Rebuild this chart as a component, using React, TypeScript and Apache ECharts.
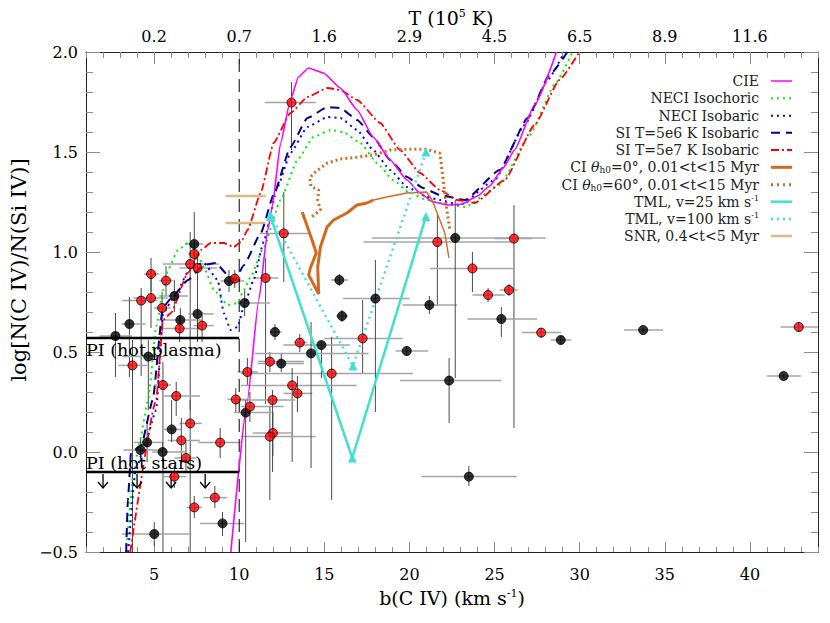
import React, { useEffect, useRef } from 'react';
import * as echarts from 'echarts';

// ---------- axis tick labels ----------
const bTicks = [5, 10, 15, 20, 25, 30, 35, 40];
const tTickLabels = ['0.2', '0.7', '1.6', '2.9', '4.5', '6.5', '8.9', '11.6'];

// ---------- model curves [b, log ratio] ----------
const cie = [[9.51, -0.5], [10.47, 0.25], [11.15, 0.76], [11.68, 1.11], [11.94, 1.227], [12.43, 1.545], [13.01, 1.76], [13.48, 1.875], [14.07, 1.92], [14.95, 1.895], [15.94, 1.82], [16.93, 1.71], [17.87, 1.575], [18.87, 1.46], [19.86, 1.36], [20.62, 1.295], [21.38, 1.25], [22.3, 1.235], [23.1, 1.24], [24.0, 1.28], [24.72, 1.33], [25.5, 1.42], [26.18, 1.51], [27.35, 1.735], [28.64, 2.0]];
const neciIsochoric = [[3.36, -0.5], [3.8, -0.1], [4.13, 0.045], [4.65, 0.26], [5.12, 0.625], [5.53, 0.81], [5.82, 0.91], [6.4, 1.01], [6.98, 1.045], [7.5, 1.0], [7.92, 0.925], [8.51, 0.81], [9.33, 0.735], [9.91, 0.745], [10.27, 0.81], [10.67, 0.875], [11.45, 1.027], [12.43, 1.26], [13.42, 1.46], [14.36, 1.575], [15.36, 1.61], [16.11, 1.6], [17.11, 1.545], [18.1, 1.445], [19.04, 1.36], [20.03, 1.295], [21.03, 1.26], [21.79, 1.245], [23.26, 1.225], [25.3, 1.335], [27.06, 1.585], [28.52, 1.835], [29.58, 2.0]];
const neciIsobaric = [[3.48, -0.5], [3.9, -0.1], [4.5, 0.05], [5.12, 0.21], [5.53, 0.695], [6.17, 0.775], [7.16, 0.925], [7.92, 0.945], [8.74, 0.86], [9.09, 0.695], [9.5, 0.61], [9.91, 0.625], [10.26, 0.725], [10.85, 0.86], [11.43, 1.05], [12.25, 1.325], [13.01, 1.495], [14.01, 1.625], [15.18, 1.675], [15.94, 1.67], [16.93, 1.61], [17.87, 1.51], [18.87, 1.41], [19.86, 1.325], [21.03, 1.275], [21.79, 1.26], [22.96, 1.235], [25.01, 1.36], [26.77, 1.635], [28.12, 1.86], [29.1, 2.0]];
const si5e6 = [[3.36, -0.5], [3.46, -0.24], [3.65, 0.0], [4.24, 0.03], [4.92, 0.26], [5.52, 0.725], [6.17, 0.785], [6.99, 0.86], [7.92, 0.935], [8.63, 0.945], [9.33, 0.885], [9.75, 0.86], [10.28, 0.935], [11.26, 1.093], [12.04, 1.29], [13.01, 1.525], [14.01, 1.67], [15.18, 1.725], [15.94, 1.72], [16.93, 1.66], [17.87, 1.575], [18.87, 1.46], [19.86, 1.375], [20.8, 1.32], [21.79, 1.285], [23.26, 1.26], [25.3, 1.41], [26.94, 1.67], [28.23, 1.885], [29.28, 2.0]];
const si5e7 = [[3.6, -0.5], [5.12, 0.26], [5.53, 0.66], [5.99, 0.695], [6.98, 0.895], [7.75, 1.01], [8.33, 1.045], [9.09, 1.045], [9.68, 1.025], [10.1, 1.05], [10.49, 1.11], [11.26, 1.295], [12.02, 1.545], [13.01, 1.695], [14.01, 1.775], [15.18, 1.82], [15.94, 1.81], [16.93, 1.76], [18.28, 1.645], [19.45, 1.51], [20.62, 1.395], [21.79, 1.31], [22.8, 1.26], [23.84, 1.245], [25.6, 1.36], [27.35, 1.635], [28.81, 1.86], [29.98, 2.0]];
const ci0Thick = [[13.7, 1.2], [14.28, 1.06], [14.53, 0.995], [14.18, 0.92], [14.08, 0.885], [14.67, 0.79], [14.61, 0.925], [14.77, 1.025], [15.16, 1.125], [15.55, 1.16], [16.33, 1.195], [16.92, 1.235], [17.5, 1.245], [17.89, 1.26]];
const ci0Thin = [[17.89, 1.26], [18.67, 1.275], [19.84, 1.295], [21.01, 1.3], [21.33, 1.26], [22.08, 1.095], [22.32, 0.97]];
const ci60 = [[14.28, 1.177], [14.77, 1.21], [14.61, 1.26], [14.67, 1.31], [14.22, 1.327], [14.14, 1.369], [14.38, 1.394], [15.16, 1.444], [15.94, 1.465], [16.92, 1.474], [17.89, 1.485], [18.87, 1.51], [19.84, 1.514], [21.01, 1.514], [21.79, 1.494], [22.2, 1.21], [22.38, 1.11]];
const tml25 = [[11.84, 1.177], [16.64, -0.03], [20.97, 1.177]];
const tml100 = [[11.84, 1.185], [16.68, 0.43], [20.97, 1.5]];
const snrUpper = [[9.21, 1.28], [11.55, 1.28]];
const snrLower = [[9.21, 1.145], [11.55, 1.145]];

// ---------- reference lines ----------
const piPlasma = [[1, 0.57], [10, 0.57]];
const piStars = [[1, -0.1], [10, -0.1]];
const piStarArrowsB = [2, 4, 6, 8];
const bDivider = [[10, -0.5], [10, 2.0]];

// ---------- data points: [b, logRatio, bLow, bHigh, logLow, logHigh] ----------
const redPoints = [
  [4.82, 0.89, 4.4, 5.3, 0.8, 0.97],
  [5.7, 0.857, 5.3, 6.1, 0.78, 0.93],
  [4.82, 0.77, 3.8, 5.8, 0.62, 0.91],
  [4.24, 0.757, 3.1, 5.2, 0.38, 0.82],
  [5.47, 0.72, 5.0, 6.0, 0.6, 0.8],
  [7.12, 0.94, 5.5, 8.8, 0.21, 1.1],
  [7.36, 0.99, 7.0, 7.7, 0.9, 1.05],
  [7.55, 0.92, 6.5, 8.7, 0.85, 0.98],
  [6.5, 0.617, 5.4, 7.75, 0.55, 0.68],
  [7.82, 0.632, 7.3, 8.5, 0.55, 0.7],
  [3.73, 0.433, 2.9, 4.6, -0.5, 0.56],
  [5.52, 0.335, 5.0, 6.0, -0.5, 0.45],
  [6.3, 0.28, 5.5, 7.7, 0.18, 0.35],
  [9.8, 0.263, 9.3, 10.5, 0.2, 0.32],
  [9.74, 0.867, 9.4, 10.1, 0.82, 0.91],
  [11.55, 0.87, 10.8, 12.3, 0.24, 0.97],
  [10.48, 0.4, 9.9, 11.1, 0.33, 0.47],
  [10.63, 0.227, 10.1, 12.6, 0.15, 0.3],
  [7.12, 0.143, 6.5, 7.8, -0.5, 0.26],
  [6.6, 0.058, 5.8, 7.7, -0.05, 0.17],
  [8.88, 0.047, 7.6, 10.1, -0.03, 0.12],
  [6.87, -0.03, 6.2, 7.5, -0.1, 0.05],
  [6.19, -0.123, 5.5, 6.9, -0.18, -0.07],
  [8.57, -0.228, 7.9, 9.3, -0.28, -0.17],
  [7.36, -0.277, 6.9, 7.8, -0.33, -0.22],
  [13.07, 1.747, 11.5, 14.5, 1.51, 1.85],
  [12.62, 1.093, 11.2, 14.2, 0.85, 1.3],
  [13.56, 0.547, 13.2, 14.0, 0.5, 0.59],
  [17.25, 0.568, 15.0, 19.6, 0.395, 0.76],
  [11.8, 0.452, 11.1, 13.8, 0.4, 0.5],
  [15.43, 0.392, 10.1, 20.2, -0.24, 0.575],
  [13.11, 0.333, 10.1, 16.9, -0.05, 0.42],
  [13.42, 0.293, 12.6, 14.3, 0.2, 0.38],
  [11.96, 0.26, 10.1, 13.3, -0.1, 0.31],
  [11.98, 0.095, 10.8, 13.1, -0.02, 0.2],
  [11.8, 0.077, 10.1, 14.5, -0.24, 0.225],
  [21.64, 1.05, 17.3, 26.0, 0.73, 1.185],
  [26.14, 1.067, 25.0, 27.2, 0.12, 1.235],
  [23.7, 0.918, 21.2, 26.2, 0.8, 1.0],
  [24.62, 0.785, 23.7, 25.6, 0.75, 0.82],
  [25.85, 0.81, 25.3, 26.35, 0.78, 0.84],
  [27.74, 0.597, 26.6, 28.9, 0.57, 0.62],
  [42.87, 0.625, 41.8, 44.0, 0.6, 0.65],
];
const blackPoints = [
  [7.36, 1.04, 6.8, 7.9, 0.95, 1.2],
  [6.19, 0.78, 5.3, 7.0, 0.7, 0.86],
  [6.54, 0.66, 5.3, 7.8, 0.6, 0.72],
  [7.55, 0.69, 7.0, 8.5, 0.55, 0.88],
  [3.55, 0.64, 3.1, 4.5, 0.375, 0.775],
  [2.73, 0.58, 1.8, 3.7, 0.375, 0.695],
  [4.66, 0.477, 3.1, 5.6, 0.21, 0.56],
  [9.4, 0.855, 8.9, 10.3, 0.8, 0.91],
  [10.32, 0.745, 9.9, 11.8, 0.68, 0.81],
  [6.03, 0.113, 5.5, 6.6, 0.05, 0.26],
  [4.59, 0.048, 3.8, 5.6, -0.05, 0.15],
  [4.2, 0.01, 3.2, 5.5, -0.05, 0.07],
  [5.5, 0.0, 4.9, 6.9, -0.05, 0.05],
  [9.02, -0.357, 7.7, 10.3, -0.42, -0.3],
  [5.01, -0.41, 3.1, 7.2, -0.47, -0.35],
  [10.38, 0.197, 9.7, 11.9, -0.45, 0.26],
  [15.88, 0.86, 15.4, 16.4, 0.83, 0.89],
  [18.0, 0.767, 16.1, 20.0, 0.2, 0.96],
  [21.17, 0.735, 19.6, 22.8, 0.69, 0.78],
  [16.04, 0.68, 15.7, 16.4, 0.65, 0.71],
  [12.1, 0.6, 11.8, 12.5, 0.56, 0.64],
  [14.83, 0.535, 12.6, 16.5, 0.37, 0.55],
  [14.22, 0.493, 10.9, 17.6, -0.08, 0.65],
  [19.84, 0.505, 19.2, 21.1, 0.48, 0.53],
  [12.47, 0.442, 11.1, 13.8, 0.4, 0.49],
  [22.69, 1.07, 17.8, 28.0, 0.37, 1.26],
  [25.4, 0.665, 23.4, 27.5, 0.575, 0.725],
  [28.89, 0.56, 28.3, 29.5, 0.54, 0.58],
  [22.33, 0.357, 19.45, 25.4, 0.145, 0.47],
  [23.49, -0.123, 20.7, 26.3, -0.17, -0.07],
  [33.73, 0.61, 32.6, 34.9, 0.6, 0.62],
  [41.98, 0.38, 41.0, 43.0, 0.37, 0.39],
];

// ---------- legend ----------
const legendLabels = [
  'CIE',
  'NECI Isochoric',
  'NECI Isobaric',
  'SI T=5e6 K Isobaric',
  'SI T=5e7 K Isobaric',
  'CI {it|θ}{sub|h0}=0°, 0.01<t<15 Myr',
  'CI {it|θ}{sub|h0}=60°, 0.01<t<15 Myr',
  'TML, v=25 km s{sup|-1}',
  'TML, v=100 km s{sup|-1}',
  'SNR, 0.4<t<5 Myr',
];

const SERIF = 'DejaVu Serif';
const C = {
  cie: '#ff00ff', green: '#00ee00', blue: '#0000ff', navy: '#00008b', red: '#ff0000',
  choc: '#d2691e', turq: '#40e0d0', tan: '#deb887',
};
const legendStyles = [
  { color: C.cie, width: 1.5, dash: 'solid' },
  { color: C.green, width: 2, dash: [2, 4] },
  { color: C.blue, width: 2, dash: [2, 4] },
  { color: C.navy, width: 2, dash: [9, 6] },
  { color: C.red, width: 2, dash: [8, 3, 2, 3] },
  { color: C.choc, width: 3, dash: 'solid' },
  { color: C.choc, width: 3, dash: [2, 4] },
  { color: C.turq, width: 2.5, dash: 'solid' },
  { color: C.turq, width: 2.5, dash: [2, 4] },
  { color: C.tan, width: 2.5, dash: 'solid' },
];

function curve(data: number[][], color: string, width: number, type: any, smooth: number | boolean = 0.15, z = 3) {
  return {
    type: 'line', data, showSymbol: false, symbol: 'none', smooth, smoothMonotone: 'x', z,
    lineStyle: { color, width, type, cap: 'butt' },
    clip: true, silent: true,
  };
}

function errorBars(points: number[][]) {
  return {
    type: 'custom', clip: true, silent: true, z: 2,
    data: points,
    encode: { x: 0, y: 1 },
    renderItem: (_p: any, api: any) => {
      const b = api.value(0), y = api.value(1);
      const h1 = api.coord([api.value(2), y]);
      const h2 = api.coord([api.value(3), y]);
      const v1 = api.coord([b, api.value(4)]);
      const v2 = api.coord([b, api.value(5)]);
      return {
        type: 'group',
        children: [
          { type: 'line', shape: { x1: h1[0], y1: h1[1], x2: h2[0], y2: h2[1] }, style: { stroke: '#a4a4a4', lineWidth: 1.5 } },
          { type: 'line', shape: { x1: v1[0], y1: v1[1], x2: v2[0], y2: v2[1] }, style: { stroke: '#4a4a4a', lineWidth: 1 } },
        ],
      };
    },
  };
}

export default function App() {
  const ref = useRef<HTMLDivElement>(null);
  useEffect(() => {
    if (!ref.current) return;
    const chart = echarts.init(ref.current, null, { renderer: 'svg' });
    const labelFont = { fontFamily: SERIF, fontSize: 16, color: '#000' };
    const supRich = { sup: { fontFamily: SERIF, fontSize: 11, verticalAlign: 'top', color: '#000' } };
    const frameLine = { show: true, onZero: false, lineStyle: { color: '#222', width: 1 } };
    const noLine = { show: false, onZero: false };
    const tickStyle = { color: '#8a8a8a', width: 1 };

    const legendGraphics: any[] = [];
    const rowY = [81, 98.3, 115.7, 132.7, 150, 167.3, 184.7, 201.7, 219, 236];
    legendLabels.forEach((lab, i) => {
      const st = legendStyles[i];
      legendGraphics.push({
        type: 'text', z: 10,
        style: {
          text: lab, x: 759, y: rowY[i], align: 'right', verticalAlign: 'middle',
          textAlign: 'right', textVerticalAlign: 'middle',
          fontFamily: SERIF, fontSize: 14, fill: '#222', lineHeight: 15,
          rich: {
            it: { fontFamily: SERIF, fontSize: 14, fontStyle: 'italic', fill: '#222', lineHeight: 15 },
            sub: { fontFamily: SERIF, fontSize: 9, verticalAlign: 'bottom', lineHeight: 15, fill: '#222' },
            sup: { fontFamily: SERIF, fontSize: 8, verticalAlign: 'top', lineHeight: 15, fill: '#222' },
          },
        },
      });
      legendGraphics.push({
        type: 'line', z: 10,
        shape: { x1: 771, y1: rowY[i], x2: 792, y2: rowY[i] },
        style: { stroke: st.color, lineWidth: st.width, lineDash: st.dash === 'solid' ? null : st.dash },
      });
    });

    const option: any = {
      animation: false,
      backgroundColor: '#fff',
      grid: { left: 86, right: 12, top: 52, bottom: 71 },
      xAxis: [
        {
          type: 'value', position: 'bottom', min: 1, max: 44, interval: 1,
          axisLine: frameLine,
          axisTick: { show: true, inside: true, length: 5, lineStyle: tickStyle },
          axisLabel: { ...labelFont, margin: 14, formatter: (v: number) => (bTicks.indexOf(Math.round(v)) >= 0 && Math.abs(v - Math.round(v)) < 1e-6 ? String(Math.round(v)) : '') },
          splitLine: { show: false },
          name: 'b(C IV) (km s{sup|-1})', nameLocation: 'middle', nameGap: 36,
          nameTextStyle: { fontFamily: SERIF, fontSize: 19, color: '#000', rich: supRich },
        },
        {
          type: 'value', position: 'bottom', min: 1, max: 44,
          axisLine: noLine, axisLabel: { show: false }, splitLine: { show: false },
          axisTick: { show: true, inside: true, length: 10, lineStyle: tickStyle, customValues: bTicks },
        },
        {
          type: 'value', position: 'top', min: 1, max: 44, interval: 1,
          axisLine: frameLine,
          axisTick: { show: true, inside: true, length: 6, lineStyle: tickStyle },
          axisLabel: {
            ...labelFont, margin: 8,
            formatter: (v: number) => {
              const i = bTicks.indexOf(Math.round(v));
              return i >= 0 && Math.abs(v - Math.round(v)) < 1e-6 ? tTickLabels[i] : '';
            },
          },
          splitLine: { show: false },
        },
        {
          type: 'value', position: 'top', min: 1, max: 44,
          axisLine: noLine, axisLabel: { show: false }, splitLine: { show: false },
          axisTick: { show: true, inside: true, length: 12, lineStyle: tickStyle, customValues: bTicks },
        },
      ],
      yAxis: [
        {
          type: 'value', position: 'left', min: -0.5, max: 2.0, interval: 0.5,
          axisLine: frameLine,
          axisTick: { show: true, inside: true, length: 14, lineStyle: tickStyle },
          minorTick: { show: true, splitNumber: 5, length: 7, lineStyle: tickStyle },
          axisLabel: { ...labelFont, margin: 8, formatter: (v: number) => v.toFixed(1).replace('-', '−') },
          splitLine: { show: false },
        },
        {
          type: 'value', position: 'right', min: -0.5, max: 2.0, interval: 0.5,
          axisLine: frameLine,
          axisTick: { show: true, inside: true, length: 14, lineStyle: tickStyle },
          minorTick: { show: true, splitNumber: 5, length: 7, lineStyle: tickStyle },
          axisLabel: { show: false }, splitLine: { show: false },
        },
      ],
      graphic: [
        ...legendGraphics,
        {
          type: 'text', z: 10,
          style: {
            text: 'T (10{sup|5} K)', x: 451, y: 18, align: 'center', verticalAlign: 'middle', textAlign: 'center', textVerticalAlign: 'middle',
            fontFamily: SERIF, fontSize: 19, fill: '#000', lineHeight: 20,
            rich: { sup: { fontFamily: SERIF, fontSize: 11, verticalAlign: 'top', lineHeight: 20, fill: '#000' } },
          },
        },
        {
          type: 'text', z: 10, x: 19, y: 270, rotation: Math.PI / 2,
          style: { text: 'log[N(C IV)/N(Si IV)]', x: 0, y: 0, align: 'center', verticalAlign: 'middle', textAlign: 'center', textVerticalAlign: 'middle', fontFamily: SERIF, fontSize: 21, fill: '#000' },
        },
        {
          type: 'text', z: 10,
          style: { text: 'PI (hot plasma)', x: 86, y: 350, align: 'left', verticalAlign: 'middle', textAlign: 'left', textVerticalAlign: 'middle', fontFamily: SERIF, fontSize: 17.5, fill: '#000' },
        },
        {
          type: 'text', z: 10,
          style: { text: 'PI (hot stars)', x: 86, y: 463, align: 'left', verticalAlign: 'middle', textAlign: 'left', textVerticalAlign: 'middle', fontFamily: SERIF, fontSize: 17.5, fill: '#000' },
        },
      ],
      series: [
        errorBars(redPoints),
        errorBars(blackPoints),
        curve(bDivider, '#000', 1, [13, 7], false, 2),
        curve(piPlasma, '#000', 2.5, 'solid', false, 5),
        curve(piStars, '#000', 2.5, 'solid', false, 5),
        {
          type: 'custom', silent: true, z: 5, clip: true,
          data: piStarArrowsB.map((b) => [b, -0.1]),
          encode: { x: 0, y: 1 },
          renderItem: (_p: any, api: any) => {
            const top = api.coord([api.value(0), api.value(1)]);
            const bot = api.coord([api.value(0), api.value(1) - 0.08]);
            return {
              type: 'group',
              children: [
                { type: 'line', shape: { x1: top[0], y1: top[1] + 2, x2: bot[0], y2: bot[1] }, style: { stroke: '#000', lineWidth: 1.3 } },
                { type: 'polyline', shape: { points: [[bot[0] - 5, bot[1] - 6], [bot[0], bot[1]], [bot[0] + 5, bot[1] - 6]] }, style: { stroke: '#000', lineWidth: 1.3, fill: 'none' } },
              ],
            };
          },
        },
        curve(snrUpper, C.tan, 2.5, 'solid', false),
        curve(snrLower, C.tan, 2.5, 'solid', false),
        curve(neciIsochoric, C.green, 2, [2, 4]),
        curve(neciIsobaric, C.blue, 2, [2, 4]),
        curve(si5e6, C.navy, 2, [9, 6]),
        curve(si5e7, C.red, 1.8, [8, 3, 2, 3]),
        curve(cie, C.cie, 1.6, 'solid'),
        curve(ci0Thick, C.choc, 3, 'solid', false),
        curve(ci0Thin, C.choc, 1.4, 'solid', false),
        curve(ci60, C.choc, 3, [2, 3], false),
        {
          ...curve(tml25, C.turq, 2.5, 'solid', false),
          showSymbol: true, symbol: 'triangle', symbolSize: 9, itemStyle: { color: C.turq },
        },
        {
          ...curve(tml100, C.turq, 2.5, [2, 4], false),
          showSymbol: true, symbol: 'triangle', symbolSize: 9, itemStyle: { color: C.turq },
        },
        {
          type: 'scatter', z: 6, silent: true, symbolSize: 9,
          data: blackPoints.map((p) => [p[0], p[1]]),
          itemStyle: { color: '#000', borderColor: '#000', borderWidth: 1 },
        },
        {
          type: 'scatter', z: 6, silent: true, symbolSize: 9,
          data: redPoints.map((p) => [p[0], p[1]]),
          itemStyle: { color: '#ff0000', borderColor: '#000', borderWidth: 1 },
        },
      ],
    };
    chart.setOption(option);
    return () => chart.dispose();
  }, []);
  return <div ref={ref} style={{ position: 'fixed', left: 0, top: 0, width: 830, height: 623, background: '#fff' }} />;
}
